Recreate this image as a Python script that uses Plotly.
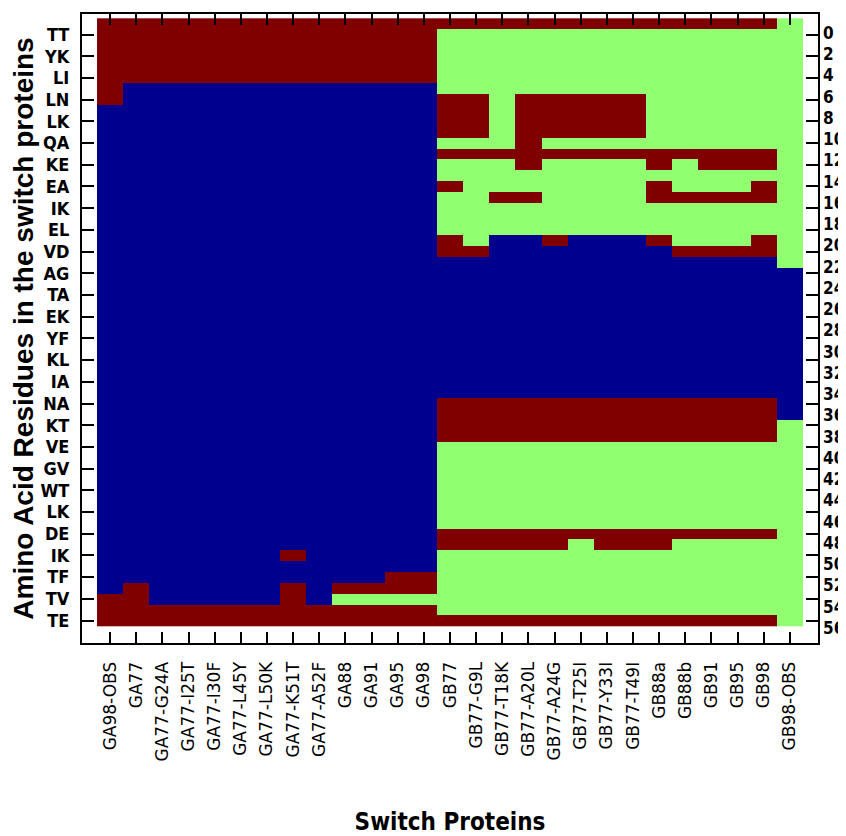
import plotly.graph_objects as go

# Switch proteins (columns)
proteins = ["GA98-OBS", "GA77", "GA77-G24A", "GA77-I25T", "GA77-I30F", "GA77-L45Y",
            "GA77-L50K", "GA77-K51T", "GA77-A52F", "GA88", "GA91", "GA95", "GA98",
            "GB77", "GB77-G9L", "GB77-T18K", "GB77-A20L", "GB77-A24G", "GB77-T25I",
            "GB77-Y33I", "GB77-T49I", "GB88a", "GB88b", "GB91", "GB95", "GB98", "GB98-OBS"]

# Secondary structure per residue (1..56): H = helix, C = coil, E = strand
ss_strings = [
    "EEEEEEEEHH" "HHHHHHHHHH" "HHHHHHHHHH" "HHHHHHHHHH" "HHHHHHHHHH" "HHHEEE",  # GA98-OBS
    "EEEEEEHHHH" "HHHHHHHHHH" "HHHHHHHHHH" "HHHHHHHHHH" "HHHHHHHHHH" "HHEEEE",  # GA77
    "EEEEEEHHHH" "HHHHHHHHHH" "HHHHHHHHHH" "HHHHHHHHHH" "HHHHHHHHHH" "HHHHEE",  # GA77-G24A
    "EEEEEEHHHH" "HHHHHHHHHH" "HHHHHHHHHH" "HHHHHHHHHH" "HHHHHHHHHH" "HHHHEE",  # GA77-I25T
    "EEEEEEHHHH" "HHHHHHHHHH" "HHHHHHHHHH" "HHHHHHHHHH" "HHHHHHHHHH" "HHHHEE",  # GA77-I30F
    "EEEEEEHHHH" "HHHHHHHHHH" "HHHHHHHHHH" "HHHHHHHHHH" "HHHHHHHHHH" "HHHHEE",  # GA77-L45Y
    "EEEEEEHHHH" "HHHHHHHHHH" "HHHHHHHHHH" "HHHHHHHHHH" "HHHHHHHHHH" "HHHHEE",  # GA77-L50K
    "EEEEEEHHHH" "HHHHHHHHHH" "HHHHHHHHHH" "HHHHHHHHHH" "HHHHHHHHHE" "HHEEEE",  # GA77-K51T
    "EEEEEEHHHH" "HHHHHHHHHH" "HHHHHHHHHH" "HHHHHHHHHH" "HHHHHHHHHH" "HHHHEE",  # GA77-A52F
    "EEEEEEHHHH" "HHHHHHHHHH" "HHHHHHHHHH" "HHHHHHHHHH" "HHHHHHHHHH" "HHECEE",  # GA88
    "EEEEEEHHHH" "HHHHHHHHHH" "HHHHHHHHHH" "HHHHHHHHHH" "HHHHHHHHHH" "HHECEE",  # GA91
    "EEEEEEHHHH" "HHHHHHHHHH" "HHHHHHHHHH" "HHHHHHHHHH" "HHHHHHHHHH" "HEECEE",  # GA95
    "EEEEEEHHHH" "HHHHHHHHHH" "HHHHHHHHHH" "HHHHHHHHHH" "HHHHHHHHHH" "HEECEE",  # GA98
    "ECCCCCCEEE" "ECECCECCCC" "EEHHHHHHHH" "HHHHHEEEEC" "CCCCCCCEEC" "CCCCCE",  # GB77
    "ECCCCCCEEE" "ECECCCCCCC" "CEHHHHHHHH" "HHHHHEEEEC" "CCCCCCCEEC" "CCCCCE",  # GB77-G9L
    "ECCCCCCCCC" "CCECCCECCC" "HHHHHHHHHH" "HHHHHEEEEC" "CCCCCCCEEC" "CCCCCE",  # GB77-T18K
    "ECCCCCCEEE" "EEEECCECCC" "HHHHHHHHHH" "HHHHHEEEEC" "CCCCCCCEEC" "CCCCCE",  # GB77-A20L
    "ECCCCCCEEE" "ECECCCCCCC" "EHHHHHHHHH" "HHHHHEEEEC" "CCCCCCCEEC" "CCCCCE",  # GB77-A24G
    "ECCCCCCEEE" "ECECCCCCCC" "HHHHHHHHHH" "HHHHHEEEEC" "CCCCCCCECC" "CCCCCE",  # GB77-T25I
    "ECCCCCCEEE" "ECECCCCCCC" "HHHHHHHHHH" "HHHHHEEEEC" "CCCCCCCEEC" "CCCCCE",  # GB77-Y33I
    "ECCCCCCEEE" "ECECCCCCCC" "HHHHHHHHHH" "HHHHHEEEEC" "CCCCCCCEEC" "CCCCCE",  # GB77-T49I
    "ECCCCCCCCC" "CCEECEECCC" "EHHHHHHHHH" "HHHHHEEEEC" "CCCCCCCEEC" "CCCCCE",  # GB88a
    "ECCCCCCCCC" "CCECCCECCC" "CEHHHHHHHH" "HHHHHEEEEC" "CCCCCCCECC" "CCCCCE",  # GB88b
    "ECCCCCCCCC" "CCEECCECCC" "CEHHHHHHHH" "HHHHHEEEEC" "CCCCCCCECC" "CCCCCE",  # GB91
    "ECCCCCCCCC" "CCEECCECCC" "CEHHHHHHHH" "HHHHHEEEEC" "CCCCCCCECC" "CCCCCE",  # GB95
    "ECCCCCCCCC" "CCEECEECCC" "EEHHHHHHHH" "HHHHHEEEEC" "CCCCCCCECC" "CCCCCE",  # GB98
    "CCCCCCCCCC" "CCCCCCCCCC" "CCCHHHHHHH" "HHHHHHHCCC" "CCCCCCCCCC" "CCCCCC",  # GB98-OBS
]

# Left axis labels: residue pairs
residue_pairs = ["TT", "YK", "LI", "LN", "LK", "QA", "KE", "EA", "IK", "EL", "VD", "AG", "TA", "EK",
                 "YF", "KL", "IA", "NA", "KT", "VE", "GV", "WT", "LK", "DE", "IK", "TF", "TV", "TE"]
pair_positions = [2, 4, 6, 8, 10, 12, 14, 16, 18, 20, 22, 24, 26, 28,
                  30, 32, 34, 36, 38, 40, 42, 44, 46, 48, 50, 52, 54, 56]
# Right axis tick values
right_ticks = [0, 2, 4, 6, 8, 10, 12, 14, 16, 18, 20, 22, 24, 26, 28,
               30, 32, 34, 36, 38, 40, 42, 44, 46, 48, 50, 52, 54, 56]

state_code = {"H": 0, "C": 1, "E": 2}
n_res = len(ss_strings[0])
residues = list(range(1, n_res + 1))
z = [[state_code[ss_strings[c][r]] for c in range(len(proteins))] for r in range(n_res)]

BLUE = "#00008F"
GREEN = "#90FF70"
RED = "#800000"
colorscale = [[0, BLUE], [0.25, BLUE], [0.25, GREEN], [0.75, GREEN], [0.75, RED], [1, RED]]

fig = go.Figure()
fig.add_trace(go.Heatmap(
    z=z, x=list(range(len(proteins))), y=residues,
    colorscale=colorscale, zmin=0, zmax=2, showscale=False,
    xgap=0, ygap=0, hoverinfo="skip",
))
fig.add_trace(go.Scatter(x=[], y=[], yaxis="y2", showlegend=False, hoverinfo="skip"))

narrow = "DejaVu Sans Condensed, Liberation Sans Narrow, Liberation Sans, sans-serif"

# The page body adds an 8px offset, so the figure is 8px smaller than the window
fig.update_layout(
    width=838, height=828,
    margin=dict(l=74, r=28, t=6, b=193, autoexpand=False),
    paper_bgcolor="white", plot_bgcolor="white",
    showlegend=False,
    xaxis=dict(
        range=[-1.074, 27.074], tickmode="array",
        tickvals=list(range(len(proteins))), ticktext=proteins,
        tickangle=-90, ticks="inside", ticklen=11, tickwidth=1.5, tickcolor="black",
        showline=True, linecolor="black", linewidth=2, mirror="ticks",
        showgrid=False, zeroline=False,
        tickfont=dict(family="DejaVu Sans, Liberation Sans, sans-serif", size=17, color="black"),
        ticklabelstandoff=10,
        title=dict(text="Switch Proteins", standoff=55,
                   font=dict(family=narrow, size=24, color="black", weight="bold")),
    ),
    yaxis=dict(
        range=[58.07, 0.104], tickmode="array",
        tickvals=pair_positions, ticktext=residue_pairs,
        ticks="inside", ticklen=12, tickwidth=1.5, tickcolor="black",
        showline=True, linecolor="black", linewidth=2, mirror="ticks",
        showgrid=False, zeroline=False,
        tickfont=dict(family=narrow, size=18, color="black", weight="bold"),
        ticklabelstandoff=7,
        title=dict(text="Amino Acid Residues in the switch proteins", standoff=7,
                   font=dict(family="Liberation Sans, Arial, sans-serif", size=28, color="black", weight="bold")),
    ),
    yaxis2=dict(
        overlaying="y", side="right", anchor="x",
        range=[57.41, -1.79], tickmode="array",
        tickvals=right_ticks, ticktext=[str(v) for v in right_ticks],
        ticks="", showline=False,
        showgrid=False, zeroline=False,
        tickfont=dict(family=narrow, size=17, color="black", weight="bold"),
        ticklabelstandoff=4,
    ),
)

fig.write_html("out.html")
